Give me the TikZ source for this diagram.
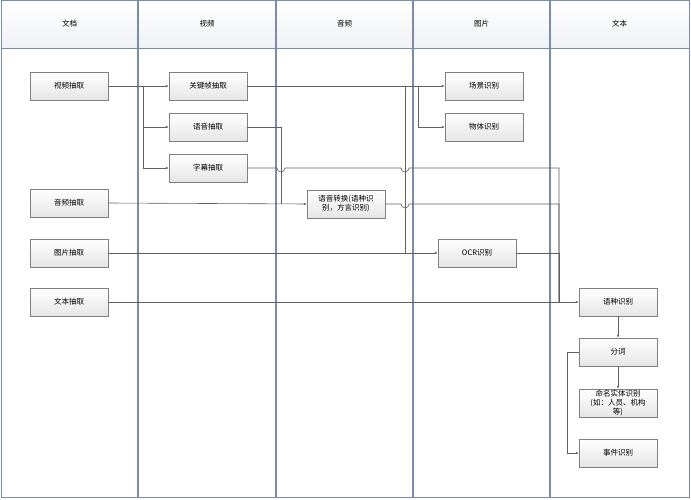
\documentclass[tikz,border=0pt]{standalone}
\usepackage{fontspec}
\setmainfont{Noto Sans CJK SC}
\usetikzlibrary{arrows.meta,shadows}
\definecolor{lane}{HTML}{7A8CAA}
\definecolor{ln}{HTML}{606060}
\tikzset{
 box/.style={draw=ln!80,top color=white,bottom color=black!10,minimum width=78pt,minimum height=28pt,inner sep=1pt,font=\fontsize{7.5}{9}\selectfont,align=center,drop shadow={shadow xshift=1pt,shadow yshift=-1pt,opacity=0.3}},
 hdr/.style={font=\fontsize{7.5}{8}\selectfont},
 con/.style={draw=ln,line width=0.6pt},
 arr/.style={con,-{Latex[length=3pt,width=2.5pt]}}
}
\begin{document}
\begin{tikzpicture}[x=1pt,y=-1pt]
\useasboundingbox (0,0) rectangle (691,500);
\fill[white] (0,0) rectangle (691,500);
\foreach \a/\b/\t [count=\i] in {1/138/文档,138/276/视频,276/413/音频,413/550/图片,550/689/文本}{
  \shade[top color=white,bottom color=lane!12] (\a,1) rectangle (\b,48);
  \node[hdr] (h\i) at ({(\a+\b)/2},24) {\t};
}
\draw[lane,line width=1pt] (1,1) rectangle (689,497);
\draw[lane,line width=0.8pt] (1,48) -- (689,48);
\foreach \x in {138,276,413,550}{\draw[lane,line width=1.2pt] (\x,1) -- (\x,497);}
% nodes
\node[box] (vx) at (69,86) {视频抽取};
\node[box] (ax) at (69,203) {音频抽取};
\node[box] (px) at (69,253) {图片抽取};
\node[box] (tx) at (69,302) {文本抽取};
\node[box] (kf) at (208,86) {关键帧抽取};
\node[box] (yy) at (208,127) {语音抽取};
\node[box] (zm) at (208,168) {字幕抽取};
\node[box] (zh) at (346,204) {语音转换(语种识\\别，方言识别)};
\node[box] (cj) at (484,86) {场景识别};
\node[box] (wt) at (484,127) {物体识别};
\node[box] (ocr) at (477,253) {OCR识别};
\node[box] (yz) at (618,302) {语种识别};
\node[box] (fc) at (618,352) {分词};
\node[box] (mm) at (618,403) {命名实体识别\\(如：人员、机构\\等)};
\node[box] (sj) at (618,453) {事件识别};
\coordinate (j1) at (143,86);
\coordinate (j2) at (418,86);
\coordinate (j3) at (405,86);
\coordinate (j4) at (559,302);
% connectors
\draw[con] (vx.east) -- (j1);
\draw[arr] (j1) -- (kf.west);
\draw[arr] (j1) |- (yy.west);
\draw[arr] (j1) |- (zm.west);
\draw[arr] (kf.east) -- (cj.west);
\draw[arr] (j2) |- (wt.west);
\draw[con] (j3) -- (405,253);
\draw[arr] (px.east) -- (ocr.west);
\draw[con] (yy.east) -| (281,204);
\draw[arr] (ax.east) -- (zh.west);
\draw[con] (zm.east) -- (277,168) arc[start angle=180,end angle=0,radius=4] -- (401,168) arc[start angle=180,end angle=0,radius=4] -| (j4);
\draw[con] (zh.east) -- (401,204) arc[start angle=180,end angle=0,radius=4] -| (j4);
\draw[con] (ocr.east) -| (j4);
\draw[arr] (tx.east) -- (yz.west);
\draw[arr] (yz) -- (fc);
\draw[arr] (fc) -- (mm.north);
\draw[arr] (fc.west) -- (567,352) |- (sj.west);
\end{tikzpicture}
\end{document}
